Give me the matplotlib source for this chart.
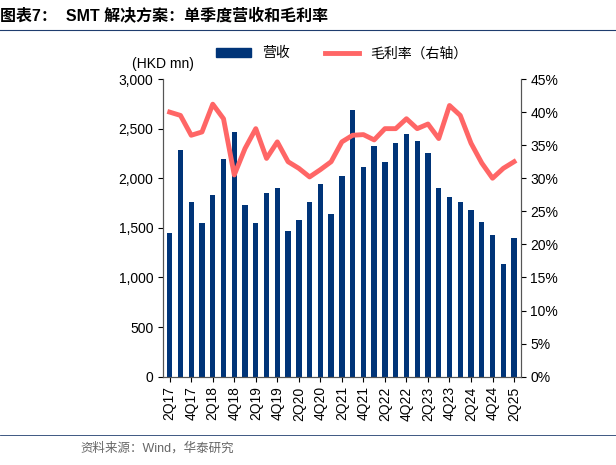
import matplotlib
matplotlib.use("Agg")
from matplotlib import pyplot as plt
from matplotlib.ticker import FuncFormatter
from matplotlib.lines import Line2D

plt.rcParams['font.family'] = ['Liberation Sans', 'Noto Sans CJK SC', 'DejaVu Sans']

# data
quarters = ["2Q17", "3Q17", "4Q17", "1Q18", "2Q18", "3Q18", "4Q18", "1Q19", "2Q19", "3Q19",
            "4Q19", "1Q20", "2Q20", "3Q20", "4Q20", "1Q21", "2Q21", "3Q21", "4Q21", "1Q22",
            "2Q22", "3Q22", "4Q22", "1Q23", "2Q23", "3Q23", "4Q23", "1Q24", "2Q24", "3Q24",
            "4Q24", "1Q25", "2Q25"]
revenue = [1450, 2280, 1760, 1550, 1830, 2190, 2470, 1730, 1550, 1850, 1900, 1470, 1580,
           1760, 1940, 1640, 2020, 2690, 2110, 2330, 2160, 2360, 2450, 2380, 2250, 1900,
           1810, 1760, 1680, 1560, 1430, 1140, 1400]
gross_margin = [40.0, 39.5, 36.5, 37.0, 41.2, 39.0, 30.5, 34.5, 37.5, 33.0, 35.5, 32.5, 31.5,
                30.2, 31.3, 32.5, 35.5, 36.5, 36.6, 35.8, 37.5, 37.5, 39.0, 37.5, 38.2, 36.0,
                41.0, 39.5, 35.3, 32.3, 30.0, 31.5, 32.5]

fig = plt.figure(figsize=(6.16, 4.65), dpi=100)
ax = fig.add_axes([0.265, 0.19, 0.58, 0.64])
x = list(range(len(quarters)))
ax.bar(x, revenue, width=0.5, color="#003478")
ax.set_ylim(0, 3000)
ax.set_xlim(-0.6, len(quarters) - 0.4)
ax.yaxis.set_major_formatter(FuncFormatter(lambda v, p: f"{int(v):,}"))
ax.set_yticks(range(0, 3001, 500))
ax.set_xticks(x[::2])
ax.set_xticklabels(quarters[::2], rotation=90, fontsize=10)
ax.tick_params(axis='y', labelsize=10)
ax.text(-0.6, 3080, "(HKD mn)", fontsize=10, ha='center', va='bottom')

ax2 = ax.twinx()
ax2.plot(x, gross_margin, color="#FF6666", lw=3.5)
ax2.set_ylim(0, 45)
ax2.set_yticks(range(0, 46, 5))
ax2.yaxis.set_major_formatter(FuncFormatter(lambda v, p: f"{int(v)}%"))
ax2.tick_params(axis='y', labelsize=10)
for a in (ax, ax2):
    a.spines['top'].set_visible(False)
    for s in ('left', 'right', 'bottom'):
        a.spines[s].set_color("#555555")

handles = [plt.Rectangle((0, 0), 1, 1, color="#003478"),
           Line2D([], [], color="#FF6666", lw=3.5)]
fig.legend(handles, ["营收", "毛利率（右轴）"], loc='center', bbox_to_anchor=(0.555, 0.885),
           ncol=2, frameon=False, fontsize=10, handlelength=2.5, columnspacing=2.5)

fig.text(0.0, 0.965, "图表7：  SMT 解决方案：单季度营收和毛利率", fontsize=11.5,
         fontweight='bold', va='center')
fig.add_artist(Line2D([0, 1], [0.935, 0.935], color="#1F3D6E", lw=0.8))
fig.add_artist(Line2D([0, 1], [0.065, 0.065], color="#1F3D6E", lw=0.6))
fig.text(0.13, 0.035, "资料来源：Wind，华泰研究", fontsize=9, color="#666666", va='center')

fig.savefig("out.png", dpi=100)
